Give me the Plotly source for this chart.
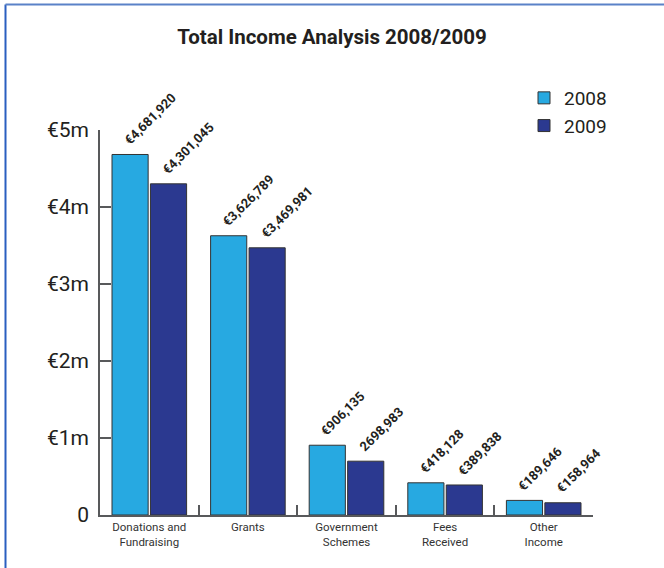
import plotly.graph_objects as go

# Income categories and yearly totals (EUR)
categories = ["Donations and<br>Fundraising", "Grants", "Government<br>Schemes",
              "Fees<br>Received", "Other<br>Income"]
income_2008 = [4681920, 3626789, 906135, 418128, 189646]
income_2009 = [4301045, 3469981, 698983, 389838, 158964]
labels_2008 = ["€4,681,920", "€3,626,789", "€906,135", "€418,128", "€189,646"]
labels_2009 = ["€4,301,045", "€3,469,981", "2698,983", "€389,838", "€158,964"]
y_tick_vals = [0, 1e6, 2e6, 3e6, 4e6, 5e6]
y_tick_text = ["0", "€1m", "€2m", "€3m", "€4m", "€5m"]

C2008 = "#27A9E1"
C2009 = "#2B3990"
TEXT = "#231F20"
AXIS = "#58595B"
FONT = "Roboto"

# page geometry (px)
W, H = 664, 568
ML, MR, MT, MB = 100, 71, 130, 53
PW, PH = W - ML - MR, H - MT - MB


def px_x(p):
    return (p - ML) / PW


def px_y(p):
    return (H - MB - p) / PH


fig = go.Figure()
fig.add_trace(go.Bar(name="2008", x=categories, y=income_2008,
                     marker=dict(color=C2008, line=dict(color="#333333", width=1))))
fig.add_trace(go.Bar(name="2009", x=categories, y=income_2009,
                     marker=dict(color=C2009, line=dict(color="#333333", width=1))))

bargap = 0.22
slot = (1 - bargap) / 2
annotations = []
for i in range(len(categories)):
    for off, val, lab in ((-slot / 2, income_2008[i], labels_2008[i]),
                          (slot / 2, income_2009[i], labels_2009[i])):
        annotations.append(dict(
            x=i + off, y=val, xref="x", yref="y", text=lab, showarrow=False,
            textangle=-45, xanchor="left", yanchor="bottom",
            xshift=-12, yshift=4,
            font=dict(family=FONT, size=13, color=TEXT, weight="bold")))

fx0, fy0, fx1, fy1 = px_x(5.5), px_y(H), px_x(W + 2), px_y(4.5)
shapes = [
    dict(type="line", xref="paper", yref="paper", x0=fx0, y0=fy0, x1=fx0, y1=fy1,
         line=dict(color="#2A5FC0", width=2)),
    dict(type="line", xref="paper", yref="paper", x0=fx0, y0=fy1, x1=fx1, y1=fy1,
         line=dict(color="#5A82C8", width=2)),
]

fig.update_layout(
    width=W, height=H,
    margin=dict(l=ML, r=MR, t=MT, b=MB, autoexpand=False),
    paper_bgcolor="white", plot_bgcolor="white",
    barmode="group", bargap=bargap, bargroupgap=0.06,
    title=dict(text="<b>Total Income Analysis 2008/2009</b>", x=0.5, xref="container",
               y=1 - 37 / H, yref="container", xanchor="center", yanchor="middle",
               font=dict(family=FONT, size=20.5, color=TEXT)),
    legend=dict(x=px_x(524), y=px_y(79), xanchor="left", yanchor="top",
                font=dict(family=FONT, size=19, color=TEXT),
                bgcolor="rgba(0,0,0,0)", tracegroupgap=0, itemwidth=30),
    xaxis=dict(type="category", range=[-0.5, len(categories) - 0.5],
               showline=True, linecolor=AXIS, linewidth=1.5,
               ticks="inside", tickson="boundaries", ticklen=10, tickcolor=AXIS,
               tickwidth=1.5, showgrid=False, zeroline=False,
               tickfont=dict(family=FONT, size=11.5, color="#333333")),
    yaxis=dict(range=[0, 5e6], showline=True, linecolor=AXIS, linewidth=1.5,
               tickvals=y_tick_vals, ticktext=y_tick_text,
               ticks="inside", ticklen=11, tickcolor=AXIS, tickwidth=1.5,
               showgrid=False, zeroline=False, ticklabelstandoff=5,
               tickfont=dict(family=FONT, size=21, color=TEXT)),
    annotations=annotations,
    shapes=shapes,
)

fig.write_html("out.html")
